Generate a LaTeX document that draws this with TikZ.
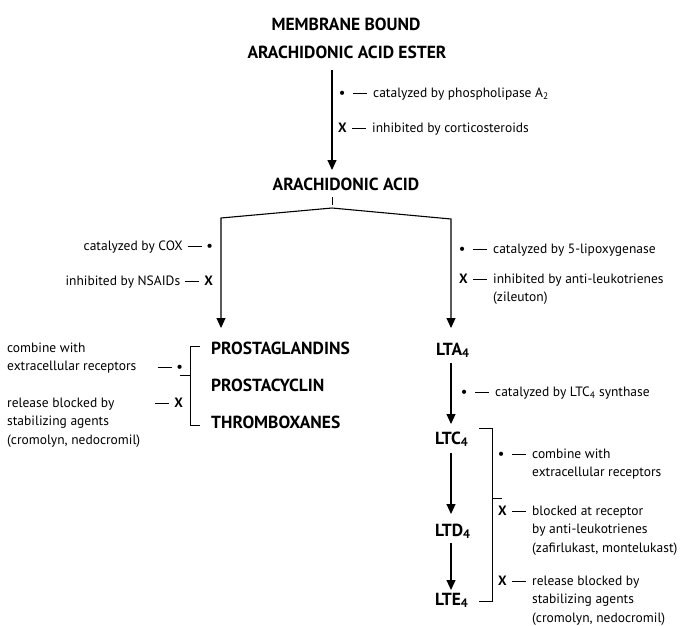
\documentclass[tikz,border=0pt]{standalone}
\usepackage{fontspec}
\setmainfont{PT Sans}
\usetikzlibrary{arrows.meta}
\newcommand\dsh{\rule[0.27em]{14pt}{0.75pt}}
\newcommand\pre[1]{\makebox[14pt][l]{\textbf{#1}}\dsh\hspace{6pt}}
\newcommand\suf[1]{\hspace{5pt}\dsh\hspace{5pt}\textbf{#1}}
\begin{document}
\begin{tikzpicture}[x=1pt,y=-1pt,
  big/.style={font=\fontsize{17.5}{20}\selectfont\bfseries, inner sep=0pt, anchor=base},
  bigw/.style={big, anchor=base west},
  lbl/.style={font=\fontsize{13.5}{18.5}\selectfont, inner sep=0pt, anchor=base west},
  lblr/.style={lbl, anchor=base east},
  arr/.style={line width=1.1pt, -{Triangle[width=9pt,length=10pt]}},
  ln/.style={line width=1pt},
]
\useasboundingbox (0,0) rectangle (684,625);
% top
\node[big] (mb) at (346,30) {MEMBRANE BOUND};
\node[big] (ester) at (347,58) {ARACHIDONIC ACID ESTER};
\node[big] (aa) at (346,190) {ARACHIDONIC ACID};
\coordinate (e1) at (332,70);
\coordinate (e2) at (332,170);
\draw[arr] (e1) -- (e2);
\node[lbl] (l1) at (339,97) {\pre{\textbullet}catalyzed by phospholipase A\textsubscript{2}};
\node[lbl] (l2) at (338,132) {\pre{X}inhibited by corticosteroids};
% split
\coordinate (t1) at (332,197);
\coordinate (t2) at (332,205);
\draw[ln] (t1) -- (t2);
\coordinate (j) at (332,208);
\coordinate (cl) at (221,218);
\coordinate (cr) at (451,219);
\coordinate (al) at (221,328);
\coordinate (ar) at (451,328);
\draw[arr] (j) -- (cl) -- (al);
\draw[arr] (j) -- (cr) -- (ar);
\node[lblr] (l3) at (213,250) {catalyzed by COX\suf{\textbullet}};
\node[lblr] (l4) at (213,285) {inhibited by NSAIDs\suf{X}};
\node[lbl] (l5) at (459,253) {\pre{\textbullet}catalyzed by 5-lipoxygenase};
\node[lbl] (l6) at (459,283) {\begin{tabular}[t]{@{}l@{}l@{}}\pre{X} & inhibited by anti-leukotrienes\\ & (zileuton)\end{tabular}};
% prostanoids
\node[bigw] (pg) at (211,354) {PROSTAGLANDINS};
\node[bigw] (pc) at (211,391) {PROSTACYCLIN};
\node[bigw] (tx) at (211,428) {THROMBOXANES};
\draw[ln] (200,346) -- (190,346) -- (190,425) -- (200,425);
\draw[ln] (180,375) -- (190,375);
\node[lbl] (l7) at (7,352) {\begin{tabular}[t]{@{}l@{}}combine with\\ extracellular receptors\end{tabular}};
\node[lblr] (l8) at (183,371) {\dsh\hspace{5pt}\textbf{\textbullet}};
\node[lbl] (l9) at (7,407) {\begin{tabular}[t]{@{}l@{}}release blocked by\\ stabilizing agents\\ (cromolyn, nedocromil)\end{tabular}};
\node[lblr] (l10) at (183,407) {\dsh\hspace{5pt}\textbf{X}};
% leukotrienes
\node[bigw] (lta) at (436,355) {LTA\textsubscript{4}};
\node[bigw] (ltc) at (435,444) {LTC\textsubscript{4}};
\node[bigw] (ltd) at (435,536) {LTD\textsubscript{4}};
\node[bigw] (lte) at (435,605) {LTE\textsubscript{4}};
\coordinate (a1) at (451,363);
\coordinate (b1) at (451,424);
\coordinate (a2) at (451,453);
\coordinate (b2) at (451,514);
\coordinate (a3) at (451,543);
\coordinate (b3) at (451,590);
\draw[arr] (a1) -- (b1);
\draw[arr] (a2) -- (b2);
\draw[arr] (a3) -- (b3);
\node[lbl] (l11) at (461,396) {\pre{\textbullet}catalyzed by LTC\textsubscript{4} synthase};
\draw[ln] (479,428) -- (492,428) -- (492,601) -- (479,601);
\draw[ln] (492,498) -- (502,498);
\node[lbl] (l12) at (498,458) {\begin{tabular}[t]{@{}l@{}l@{}}\pre{\textbullet} & combine with\\ & extracellular receptors\end{tabular}};
\node[lbl] (l13) at (498,515) {\begin{tabular}[t]{@{}l@{}l@{}}\pre{X} & blocked at receptor\\ & by anti-leukotrienes\\ & (zafirlukast, montelukast)\end{tabular}};
\node[lbl] (l14) at (498,585) {\begin{tabular}[t]{@{}l@{}l@{}}\pre{X} & release blocked by\\ & stabilizing agents\\ & (cromolyn, nedocromil)\end{tabular}};
\end{tikzpicture}
\end{document}
